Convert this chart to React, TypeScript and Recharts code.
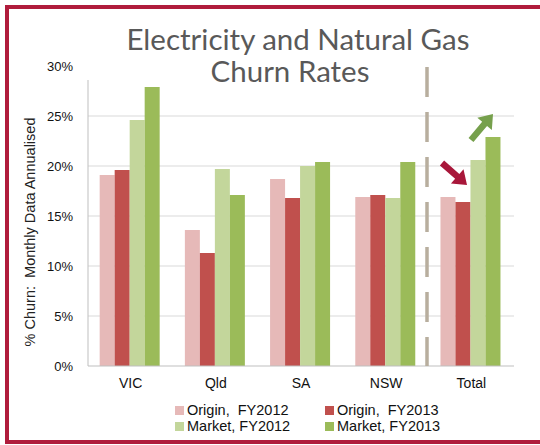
import React from 'react'
import { BarChart, Bar, XAxis, YAxis, CartesianGrid } from 'recharts'

// regions + series (fractions)
const regions = ['VIC', 'Qld', 'SA', 'NSW', 'Total']
const origin2012 = [0.191, 0.136, 0.187, 0.169, 0.169]
const origin2013 = [0.196, 0.113, 0.168, 0.171, 0.164]
const market2012 = [0.246, 0.197, 0.200, 0.168, 0.206]
const market2013 = [0.279, 0.171, 0.204, 0.204, 0.229]
const yTicks = [0, 0.05, 0.1, 0.15, 0.2, 0.25, 0.3]

const series = [
  { key: 'o12', name: 'Origin,  FY2012', color: '#e6b9b8', values: origin2012 },
  { key: 'o13', name: 'Origin,  FY2013', color: '#c0504d', values: origin2013 },
  { key: 'm12', name: 'Market, FY2012', color: '#c3d69b', values: market2012 },
  { key: 'm13', name: 'Market, FY2013', color: '#9bbb59', values: market2013 },
]

const data = regions.map((r, i) => {
  const row: any = { region: r }
  series.forEach(s => { row[s.key] = s.values[i] })
  return row
})

const font = '"Liberation Sans", Arial, sans-serif'

// arrow polygon from tail to tip (annotation only)
function arrowPts(x1: number, y1: number, x2: number, y2: number, shaft = 3.2, headW = 9.5, headL = 13) {
  const dx = x2 - x1, dy = y2 - y1
  const len = Math.hypot(dx, dy)
  const ux = dx / len, uy = dy / len
  const px = -uy, py = ux
  const bx = x2 - ux * headL, by = y2 - uy * headL
  const p = [
    [x1 + px * shaft, y1 + py * shaft],
    [bx + px * shaft, by + py * shaft],
    [bx + px * headW, by + py * headW],
    [x2, y2],
    [bx - px * headW, by - py * headW],
    [bx - px * shaft, by - py * shaft],
    [x1 - px * shaft, y1 - py * shaft],
  ]
  return p.map(q => q.join(',')).join(' ')
}

export default function App() {
  return (
    <div style={{ position: 'absolute', left: 0, top: 0, width: 540, height: 445, background: '#fff', overflow: 'hidden' }}>
      <BarChart
        width={540}
        height={445}
        data={data}
        margin={{ top: 66, right: 26, left: 28, bottom: 49 }}
        barCategoryGap="13.7%"
        barGap={0}
      >
        <CartesianGrid vertical={false} stroke="#d9d9d9" horizontalValues={[0.05, 0.1, 0.15, 0.2, 0.25]} />
        <XAxis
          dataKey="region"
          height={30}
          tickLine={false}
          tickSize={0}
          tickMargin={12}
          axisLine={{ stroke: '#bfbfbf' }}
          tick={{ fill: '#111', fontSize: 14, fontFamily: font }}
        />
        <YAxis
          width={60}
          domain={[0, 0.3]}
          ticks={yTicks}
          tickFormatter={(v: number) => `${Math.round(v * 100)}%`}
          tickLine={false}
          tickSize={0}
          tickMargin={15}
          axisLine={{ stroke: '#bfbfbf' }}
          tick={{ fill: '#111', fontSize: 13, fontFamily: font }}
        />
        {series.map(s => (
          <Bar key={s.key} dataKey={s.key} name={s.name} fill={s.color} isAnimationActive={false} />
        ))}
      </BarChart>

      {/* legend, 2 x 2 */}
      <div style={{
        position: 'absolute', left: 175, top: 403, display: 'grid',
        gridTemplateColumns: '150px 150px', rowGap: 1,
        fontFamily: font, fontSize: 14.5, color: '#111', lineHeight: '15px',
      }}>
        {series.map(s => (
          <div key={s.key} style={{ display: 'flex', alignItems: 'center', whiteSpace: 'pre' }}>
            <span style={{ width: 9, height: 9, background: s.color, marginRight: 3, display: 'inline-block' }} />
            {s.name}
          </div>
        ))}
      </div>

      <svg width={540} height={445} style={{ position: 'absolute', left: 0, top: 0, pointerEvents: 'none' }}>
        {/* title box hides top of the axis */}
        <rect x={84} y={14} width={340} height={66} fill="#fff" />
        <text x={298} y={50} textAnchor="middle" fontFamily="Lato, 'Open Sans', sans-serif" fontSize={29.5} fill="#595959">
          Electricity and Natural Gas
        </text>
        <text x={290} y={82} textAnchor="middle" fontFamily="Lato, 'Open Sans', sans-serif" fontSize={29.5} fill="#595959">
          Churn Rates
        </text>
        <text
          transform="translate(35,232) rotate(-90)"
          textAnchor="middle"
          fontFamily={font}
          fontSize={14.5}
          fill="#222"
          style={{ whiteSpace: 'pre' }}
        >
          % Churn:  Monthly Data Annualised
        </text>
        <line x1={427} y1={67} x2={427} y2={366} stroke="#b8ae9e" strokeWidth={3.5} strokeDasharray="30 15" />
        <polygon points={arrowPts(442, 163, 467, 185)} fill="#a8173a" />
        <polygon points={arrowPts(471, 140, 493, 114)} fill="#76a04c" />
      </svg>

      <div style={{
        position: 'absolute', left: 5, top: 5, width: 600, height: 439,
        borderTop: '4px solid #b01c3c', borderLeft: '4px solid #b01c3c', borderBottom: '4px solid #b01c3c',
        boxSizing: 'border-box',
      }} />
    </div>
  )
}
